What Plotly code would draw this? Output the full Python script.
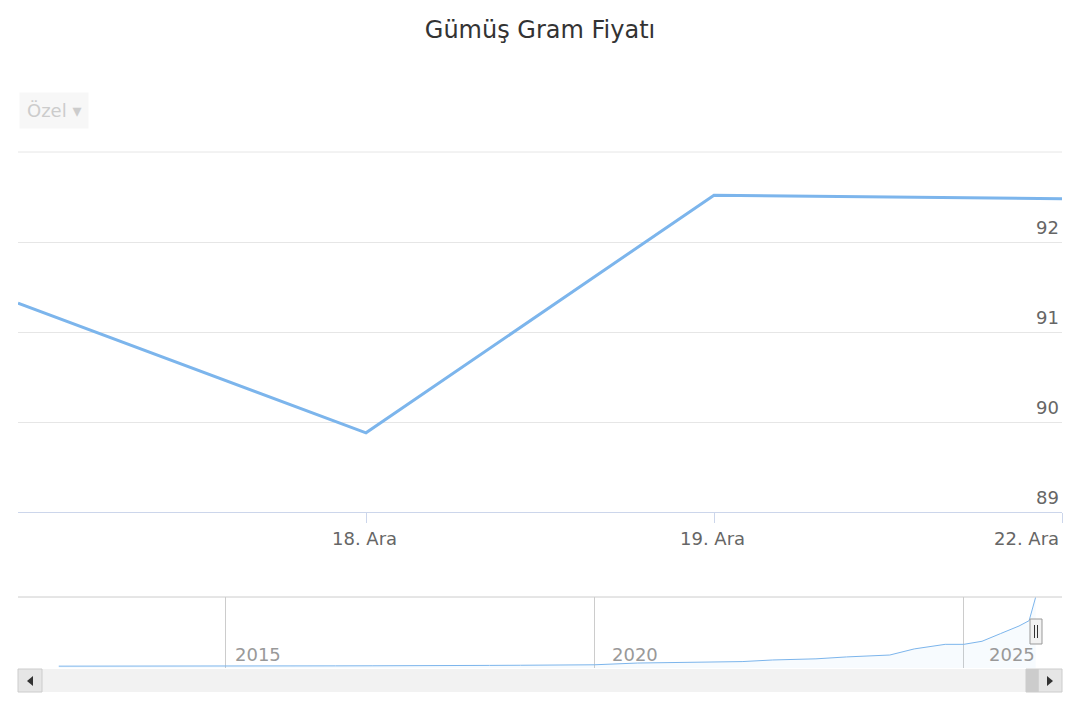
import plotly.graph_objects as go

labels = ["17. Ara", "18. Ara", "19. Ara", "22. Ara"]
prices = [91.32, 89.88, 92.52, 92.48]

nav_dates = ["2012-10-01","2013-06-01","2014-01-01","2014-06-01","2015-01-01","2015-06-01","2016-01-01","2016-07-01",
             "2017-01-01","2017-07-01","2018-01-01","2018-08-01","2019-01-01","2019-07-01","2020-01-01","2020-08-01",
             "2021-01-01","2021-06-01","2022-01-01","2022-06-01","2023-01-01","2023-06-01","2024-01-01","2024-05-01",
             "2024-10-01","2025-01-01","2025-04-01","2025-07-01","2025-10-01","2025-11-20","2025-12-22"]
nav_vals = [2.4,2.3,2.2,2.3,2.2,2.1,2.2,2.8,2.9,2.8,3.0,3.4,3.6,3.9,4.2,6.5,
            7.0,8.0,8.4,10.5,12.0,14.5,17.0,25.0,31.0,31.0,35.0,45.0,55.0,62.0,92.5]

OFF = 8
W = 1080 - 2*OFF; H = 720 - 2*OFF
def px(p): return (p - OFF) / W
def py(p): return 1 - (p - OFF) / H

fig = go.Figure()
fig.add_trace(go.Scatter(x=list(range(len(labels))), y=prices, mode="lines",
                         line=dict(color="#7cb5ec", width=3), xaxis="x", yaxis="y", hoverinfo="y"))
fig.add_trace(go.Scatter(x=nav_dates, y=nav_vals, mode="lines", fill="tozeroy",
                         fillcolor="rgba(124,181,236,0.06)",
                         line=dict(color="#7cb5ec", width=1), xaxis="x2", yaxis="y2"))

fig.update_layout(
    width=W, height=H, margin=dict(l=0, r=0, t=0, b=0), showlegend=False,
    plot_bgcolor="white", paper_bgcolor="white",
    font=dict(family="DejaVu Sans, sans-serif", color="#666666"),
    title=dict(text="Gümüş Gram Fiyatı", x=0.5, y=py(30), xanchor="center", yanchor="middle",
               font=dict(size=24, color="#333333")),
    xaxis=dict(domain=[px(18), px(1062)], range=[0, 3], tickvals=[1, 2, 3], ticktext=labels[1:],
               showgrid=False, zeroline=False, ticks="outside", ticklen=10, tickcolor="#ccd6eb",
               showline=True, linecolor="#ccd6eb", showticklabels=False, anchor="y"),
    yaxis=dict(domain=[py(512), py(152)], range=[89, 93], dtick=1, side="right",
               gridcolor="#e6e6e6", showticklabels=False, zeroline=False, anchor="x"),
    xaxis2=dict(domain=[px(44), px(1036)], type="date", range=["2012-07-20", "2025-12-24"],
                tickvals=["2015-01-01", "2020-01-01", "2025-01-01"], ticktext=["2015", "2020", "2025"],
                showticklabels=False, showgrid=True, gridcolor="#cccccc", zeroline=False, anchor="y2"),
    yaxis2=dict(domain=[py(668), py(597)], range=[0, 93], showticklabels=False, showgrid=False,
                zeroline=False, anchor="x2"),
)
ann = []
for v in [89, 90, 91, 92]:
    ann.append(dict(xref="paper", yref="y", x=px(1061), y=v, text=str(v), showarrow=False,
                    xanchor="right", yanchor="bottom", yshift=2, font=dict(size=18, color="#666666")))
for i, xpix, anc in [(1, 364, "center"), (2, 712, "center"), (3, 1061, "right")]:
    ann.append(dict(xref="paper", yref="paper", x=px(xpix), y=py(538), text=labels[i], showarrow=False,
                    xanchor=anc, yanchor="middle", font=dict(size=18, color="#666666")))
for yr, xp in [("2015", 233), ("2020", 610), ("2025", 987)]:
    ann.append(dict(xref="paper", yref="paper", x=px(xp), y=py(654), text=yr, showarrow=False,
                    xanchor="left", yanchor="middle", font=dict(size=18, color="#999999")))
ann.append(dict(xref="paper", yref="paper", x=px(19), y=py(110), text="Özel ▾", showarrow=False,
                xanchor="left", yanchor="middle", font=dict(size=18, color="#cccccc"),
                bgcolor="#f7f7f7", borderpad=7))
fig.update_layout(annotations=ann)

shapes = [
    dict(type="line", xref="paper", yref="paper", x0=px(18), x1=px(1062), y0=py(152), y1=py(152),
         line=dict(color="#e6e6e6", width=1)),
    dict(type="line", xref="paper", yref="paper", x0=px(18), x1=px(1062), y0=py(597), y1=py(597),
         line=dict(color="#cccccc", width=1)),
    dict(type="rect", xref="paper", yref="paper", x0=px(18), x1=px(1062), y0=py(692), y1=py(669),
         fillcolor="#f2f2f2", line=dict(color="#f2f2f2", width=0)),
    dict(type="rect", xref="paper", yref="paper", x0=px(18), x1=px(42), y0=py(692), y1=py(669),
         fillcolor="#e6e6e6", line=dict(color="#cccccc", width=1)),
    dict(type="rect", xref="paper", yref="paper", x0=px(1038), x1=px(1062), y0=py(692), y1=py(669),
         fillcolor="#e6e6e6", line=dict(color="#cccccc", width=1)),
    dict(type="rect", xref="paper", yref="paper", x0=px(1026), x1=px(1038), y0=py(692), y1=py(669),
         fillcolor="#cccccc", line=dict(color="#cccccc", width=1)),
    dict(type="path", xref="paper", yref="paper",
         path=f"M {px(33)},{py(676)} L {px(27)},{py(681)} L {px(33)},{py(686)} Z", fillcolor="#333333",
         line=dict(width=0)),
    dict(type="path", xref="paper", yref="paper",
         path=f"M {px(1047)},{py(676)} L {px(1053)},{py(681)} L {px(1047)},{py(686)} Z", fillcolor="#333333",
         line=dict(width=0)),
    dict(type="rect", xref="paper", yref="paper", x0=px(1030), x1=px(1042), y0=py(644), y1=py(619),
         fillcolor="#f2f2f2", line=dict(color="#999999", width=1)),
    dict(type="line", xref="paper", yref="paper", x0=px(1034.5), x1=px(1034.5), y0=py(638), y1=py(625),
         line=dict(color="#333333", width=1)),
    dict(type="line", xref="paper", yref="paper", x0=px(1037.5), x1=px(1037.5), y0=py(638), y1=py(625),
         line=dict(color="#333333", width=1)),
]
fig.update_layout(shapes=shapes)
fig.write_html("out.html")
